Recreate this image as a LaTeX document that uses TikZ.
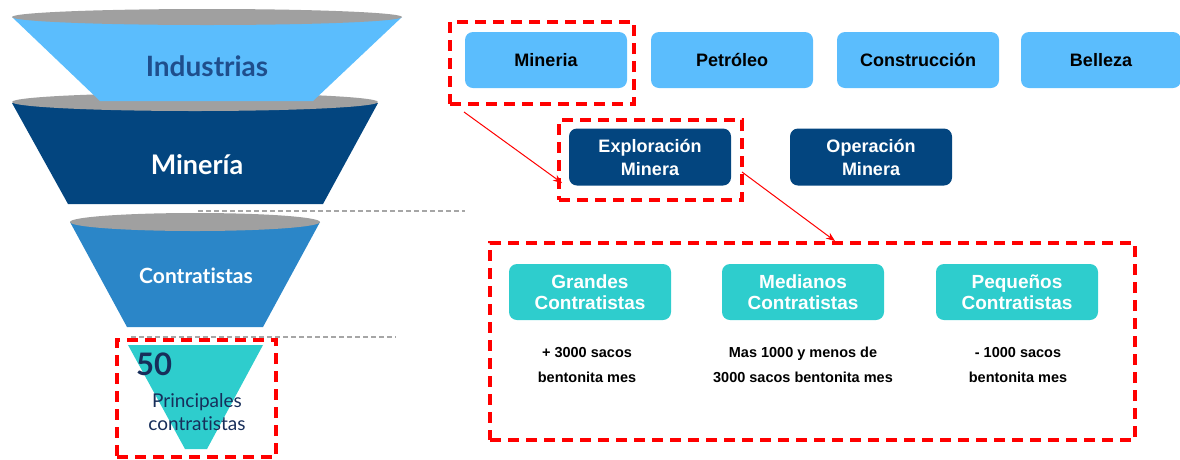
\documentclass[tikz,border=0pt]{standalone}
\usepackage{fontspec}
\setmainfont{Liberation Sans}
\newfontfamily\latof{Lato}[Ligatures=NoCommon]
\usetikzlibrary{arrows.meta}

\definecolor{skyb}{HTML}{5BBDFD}
\definecolor{navyb}{HTML}{03457F}
\definecolor{midb}{HTML}{2B86C8}
\definecolor{tealb}{HTML}{2ECDCD}
\definecolor{rimg}{HTML}{A0A0A0}
\definecolor{inkb}{HTML}{1F4E8C}
\definecolor{inkd}{HTML}{172E5A}
\definecolor{hlred}{HTML}{FF0000}
\definecolor{guideg}{HTML}{A6A6A6}

\tikzset{
  x=1pt, y=-1pt,
  catbox/.style={rounded corners=8pt, minimum width=162pt, minimum height=56pt,
    inner sep=0pt, align=center, font=\bfseries\fontsize{18}{23}\selectfont},
  skybox/.style={catbox, fill=skyb, text=black},
  navybox/.style={catbox, fill=navyb, text=white},
  tealbox/.style={catbox, fill=tealb, text=white, font=\bfseries\fontsize{19}{21}\selectfont},
  note/.style={align=center, text=black, font=\bfseries\fontsize{14.5}{25}\selectfont},
  hlbox/.style={draw=hlred, line width=4pt, dash pattern=on 11pt off 7pt,
    inner sep=0pt, fill=none},
  guide/.style={draw=guideg, line width=1.3pt, dash pattern=on 5pt off 3pt},
  redarrow/.style={draw=hlred, line width=1pt, -{Stealth[length=9pt,width=7pt]}},
  rim/.style={fill=rimg},
  funneltext/.style={font=\latof\bfseries, inner sep=0pt}
}

\begin{document}
\begin{tikzpicture}
\useasboundingbox (0,0) rectangle (1180,459);

% funnel stage 4: top contractors
\fill[tealb] (128,345) -- (263,345) -- (207,449) -- (185,449) -- cycle;
% funnel stage 3: contractors
\fill[midb] (70,222) -- (320,222) -- (263,327) -- (127,327) -- cycle;
\fill[rim] (195,222) ellipse [x radius=125, y radius=9];
% funnel stage 2: mining
\fill[navyb] (12,103) -- (378,103) -- (323,204) -- (68,204) -- cycle;
\fill[rim] (195,102) ellipse [x radius=183, y radius=9];
% funnel stage 1: industries
\fill[skyb] (12,17) -- (402,17) -- (313,101) -- (100,101) -- cycle;
\fill[rim] (207,17) ellipse [x radius=195, y radius=8];

\node[funneltext, text=inkb, font=\latof\bfseries\fontsize{28}{30}\selectfont] (tInd) at (207,66) {Industrias};
\node[funneltext, text=white, font=\latof\bfseries\fontsize{27}{30}\selectfont] (tMin) at (197,165) {Minería};
\node[funneltext, text=white, font=\latof\bfseries\fontsize{21}{24}\selectfont] (tCon) at (196,276) {Contratistas};
\node[funneltext, text=inkd, font=\latof\bfseries\fontsize{31}{34}\selectfont, anchor=west] (t50) at (136,364) {50};
\node[funneltext, text=inkd, align=center, font=\latof\fontsize{19}{23}\selectfont] (tPri) at (197,412) {Principales\\contratistas};

% dashed guide lines
\coordinate (g1a) at (198,211);
\coordinate (g1b) at (465,211);
\coordinate (g2a) at (131,337);
\coordinate (g2b) at (396,337);
\draw[guide] (g1a) -- (g1b);
\draw[guide] (g2a) -- (g2b);

% industries row
\node[skybox] (bMin) at (546,60) {Mineria};
\node[skybox] (bPet) at (732,60) {Petróleo};
\node[skybox] (bCon) at (918,60) {Construcción};
\node[skybox, minimum width=160pt] (bBel) at (1101,60) {Belleza};

% mining row
\node[navybox, minimum height=57pt] (bExp) at (650,157) {Exploración\\Minera};
\node[navybox, minimum height=57pt] (bOpe) at (871,157) {Operación\\Minera};

% contractor classes
\node[tealbox] (bGra) at (590,292) {Grandes\\Contratistas};
\node[tealbox] (bMed) at (803,292) {Medianos\\Contratistas};
\node[tealbox] (bPeq) at (1017,292) {Pequeños\\Contratistas};

\node[note] (nGra) at (587,365) {+ 3000 sacos\\bentonita mes};
\node[note] (nMed) at (803,365) {Mas 1000 y menos de\\3000 sacos bentonita mes};
\node[note] (nPeq) at (1018,365) {- 1000 sacos\\bentonita mes};

% highlight frames
\node[hlbox, minimum width=184pt, minimum height=82pt] (hMin) at (542,63) {};
\node[hlbox, minimum width=183pt, minimum height=80pt] (hExp) at (650.5,160) {};
\node[hlbox, minimum width=645pt, minimum height=197pt] (hBig) at (812.5,341.5) {};
\node[hlbox, minimum width=159pt, minimum height=117pt] (h50) at (196.5,398.5) {};

% links between highlighted items
\coordinate (a1s) at (464,112);
\coordinate (a1e) at (562,183);
\coordinate (a2s) at (742,172);
\coordinate (a2e) at (835,241);
\draw[redarrow] (a1s) -- (a1e);
\draw[redarrow] (a2s) -- (a2e);
\end{tikzpicture}
\end{document}
